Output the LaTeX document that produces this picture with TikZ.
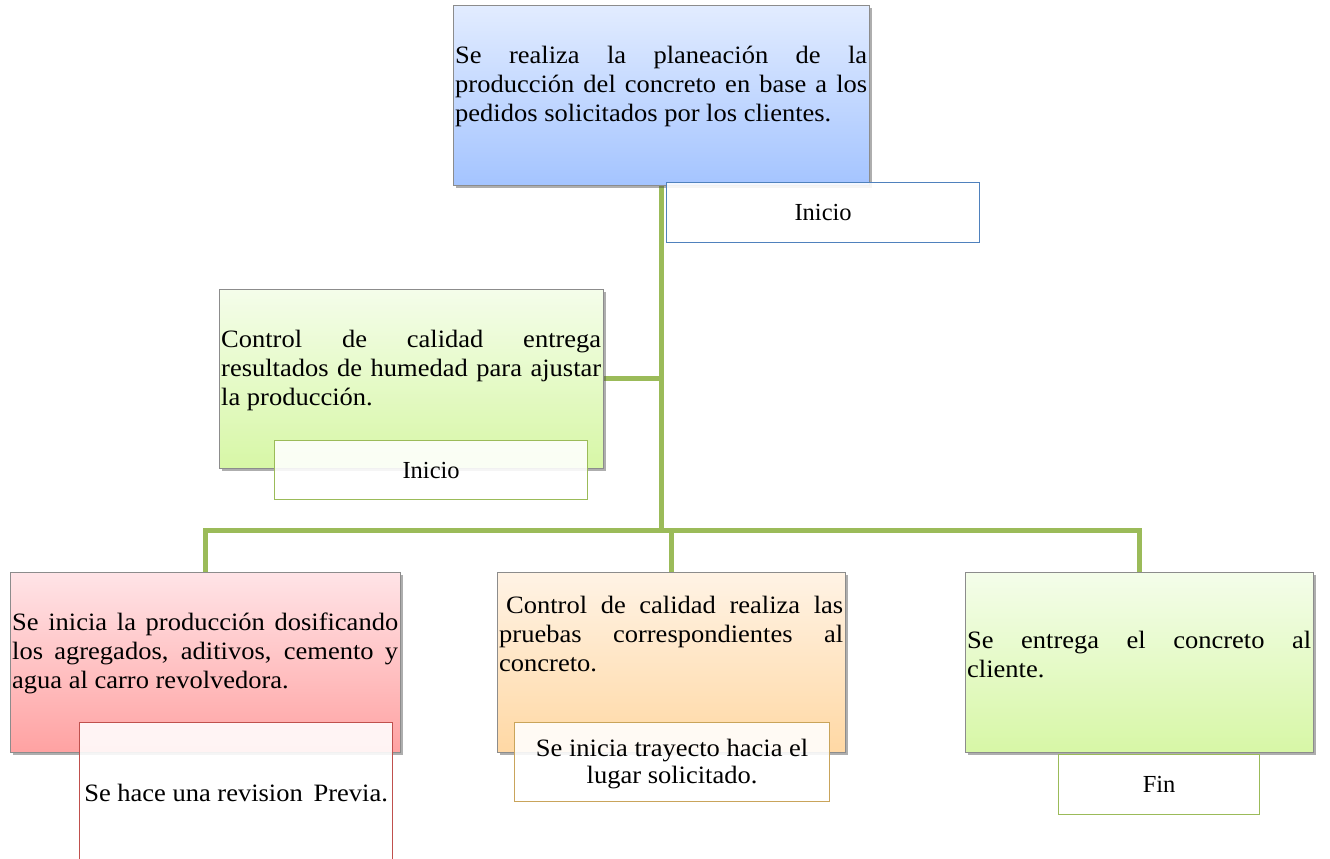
\documentclass[tikz,border=0pt]{standalone}
\usepackage{fontspec}
\setmainfont{Liberation Serif}
\newfontfamily\bodyfamily{Liberation Serif}[FakeStretch=1.06]
\usetikzlibrary{shadows,backgrounds}

\hyphenpenalty=10000
\exhyphenpenalty=10000
\tolerance=10000

\definecolor{linkgreen}{HTML}{9BBB59}
\definecolor{boxgray}{HTML}{8C8C8C}
\definecolor{blueA}{HTML}{E2ECFF}
\definecolor{blueB}{HTML}{A4C4FF}
\definecolor{greenA}{HTML}{F4FDEA}
\definecolor{greenB}{HTML}{D7F7A6}
\definecolor{redA}{HTML}{FFE4E7}
\definecolor{redB}{HTML}{FFA2A2}
\definecolor{orangeA}{HTML}{FFF3E5}
\definecolor{orangeB}{HTML}{FFD8A4}
\definecolor{blueEdge}{HTML}{4F81BD}
\definecolor{redEdge}{HTML}{C0504D}
\definecolor{tanEdge}{HTML}{C9A45B}

\newcommand{\bodysz}{\bodyfamily\fontsize{25}{28.8}\selectfont}
\newcommand{\longtagsz}{\bodyfamily\fontsize{25}{27}\selectfont}
\newcommand{\tagsz}{\fontsize{24.5}{27.5}\selectfont}

\tikzset{
  card/.style={draw=boxgray, line width=0.8pt, inner sep=0pt, anchor=north west,
    drop shadow={shadow xshift=2.5pt, shadow yshift=-2.5pt, opacity=0.45, fill=black!70}},
  tag/.style={fill=white, fill opacity=0.88, text opacity=1, line width=1.2pt,
    inner sep=0pt, anchor=north west, align=center, font=\tagsz},
  longtag/.style={tag, font=\longtagsz},
  body/.style={inner xsep=2pt, inner ysep=0pt, anchor=north west, align=justify, font=\bodysz},
  conn/.style={draw=linkgreen, line width=5pt},
}

\begin{document}
\begin{tikzpicture}[x=1pt,y=1pt]
\useasboundingbox (0,0) rectangle (1330,-859);

% parent cards
\node[card, top color=blueA, bottom color=blueB, minimum width=416pt, minimum height=180pt] (plan) at (453,-5) {};
\node[card, top color=greenA, bottom color=greenB, minimum width=384pt, minimum height=179pt] (humedad) at (219,-289) {};
\node[card, top color=redA, bottom color=redB, minimum width=390pt, minimum height=180pt] (dosifica) at (10,-572) {};
\node[card, top color=orangeA, bottom color=orangeB, minimum width=348pt, minimum height=180pt] (pruebas) at (497,-572) {};
\node[card, top color=greenA, bottom color=greenB, minimum width=348pt, minimum height=180pt] (entrega) at (965,-572) {};

% card texts
\node[body, text width=412pt] (planTxt) at (453,-46)
  {Se realiza la planeación de la\linebreak producción del concreto en base a los\linebreak pedidos solicitados por los clientes.};
\node[body, text width=380pt] (humedadTxt) at (219,-330)
  {Control de calidad entrega\linebreak resultados de humedad para ajustar\linebreak la producción.};
\node[body, text width=386pt] (dosificaTxt) at (10,-613)
  {Se inicia la producción dosificando\linebreak los agregados, aditivos, cemento y\linebreak agua al carro revolvedora.};
\node[body, text width=344pt] (pruebasTxt) at (497,-596)
  {\hspace*{7pt}Control de calidad realiza las\linebreak pruebas correspondientes al\linebreak concreto.};
\node[body, text width=344pt] (entregaTxt) at (965,-631)
  {Se entrega el concreto al\linebreak cliente.};

% sub-step tags
\node[tag, draw=blueEdge, minimum width=313pt, minimum height=60pt] (inicioA) at (666,-182) {Inicio};
\node[tag, draw=linkgreen, minimum width=313pt, minimum height=59pt] (inicioB) at (274,-440) {Inicio};
\node[longtag, draw=redEdge, minimum width=313pt, minimum height=140pt] (revision) at (79,-722) {Se hace una revision\, Previa.};
\node[longtag, draw=tanEdge, minimum width=315pt, minimum height=79pt] (trayecto) at (514,-722) {\rule{0pt}{21pt}Se inicia trayecto hacia el\\lugar solicitado.};
\node[tag, draw=linkgreen, minimum width=201pt, minimum height=60pt] (fin) at (1058,-754) {Fin};

% connectors
\coordinate (hub) at (plan.south |- 0,-530);
\begin{pgfonlayer}{background}
  \draw[conn] (plan.south) -- (hub);
  \draw[conn] (humedad.east) -- (humedad.east -| hub);
  \draw[conn] (dosifica.north) -- (dosifica.north |- hub) -- (entrega.north |- hub) -- (entrega.north);
  \draw[conn] (pruebas.north) -- (pruebas.north |- hub);
\end{pgfonlayer}
\end{tikzpicture}
\end{document}
